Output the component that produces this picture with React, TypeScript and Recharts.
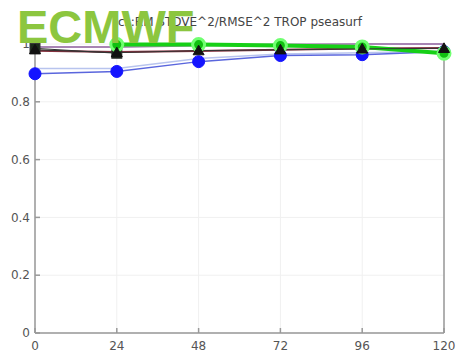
import { LineChart, Line, XAxis, YAxis, CartesianGrid, ReferenceLine } from "recharts"

// forecast step (hours)
const steps = [0, 24, 48, 72, 96, 120]
const yTicks = [0, 0.2, 0.4, 0.6, 0.8, 1]

// series
const blueDots = [0.897, 0.905, 0.939, 0.96, 0.963, 0.974]
const lightBlue = [0.915, 0.915, 0.95, 0.965, 0.97, 0.975]
const purple = [0.99, 0.99, 0.995, 0.998, 1.0, 1.0]
const maroon = [0.977, 0.972, 0.976, 0.98, 0.984, 0.986]
const greenDots = [null, 0.998, 0.998, 0.995, 0.99, 0.968]
const blackSquares = [0.985, 0.968, null, null, null, null]
const blackTriangles = [0.98, 0.97, 0.977, 0.98, 0.983, 0.985]

const data = steps.map((s, i) => ({
  step: s,
  blue: blueDots[i],
  light: lightBlue[i],
  purple: purple[i],
  maroon: maroon[i],
  green: greenDots[i],
  sq: blackSquares[i],
  tri: blackTriangles[i],
}))

const triangle = (props: any) => {
  const { cx, cy, index } = props
  if (cx == null || cy == null) return <g key={"t" + index} />
  const r = 5.5
  return (
    <polygon
      key={"t" + index}
      points={`${cx},${cy - r} ${cx - r},${cy + r * 0.75} ${cx + r},${cy + r * 0.75}`}
      fill="#111"
      stroke="#111"
    />
  )
}

const square = (props: any) => {
  const { cx, cy, index } = props
  if (cx == null || cy == null) return <g key={"s" + index} />
  return (
    <rect key={"s" + index} x={cx - 5} y={cy - 5} width={10} height={10} fill="#1a2a1a" stroke="#333" />
  )
}

const fmt = (v: number) => (v === 0 ? "0" : v === 1 ? "1" : v.toFixed(1))

const tickStyle = { fill: "#555", fontSize: 12, fontFamily: "DejaVu Sans" }

export default function App() {
  return (
    <div style={{ position: "absolute", left: 0, top: 0, width: 462, height: 357, background: "#fff" }}>
      <LineChart width={462} height={357} data={data} margin={{ top: 44, right: 18, bottom: 0, left: 0 }}>
        <CartesianGrid stroke="#f0f0f0" strokeWidth={1} />
        <XAxis
          dataKey="step"
          type="number"
          domain={[0, 120]}
          ticks={steps}
          height={24}
          tick={tickStyle}
          tickSize={-5}
          tickMargin={13}
          stroke="#999"
          strokeWidth={1.5}
        />
        <YAxis
          domain={[0, 1]}
          ticks={yTicks}
          width={35}
          tick={tickStyle}
          tickFormatter={fmt}
          tickSize={-5}
          tickMargin={10}
          stroke="#999"
          strokeWidth={1.5}
        />
        <ReferenceLine x={120} stroke="#999" strokeWidth={1.5} />
        <Line dataKey="light" stroke="#b8c4ee" strokeWidth={1.5} dot={false} isAnimationActive={false} />
        <Line dataKey="purple" stroke="#a884b4" strokeWidth={2} dot={false} isAnimationActive={false} />
        <Line dataKey="maroon" stroke="#84303e" strokeWidth={2} dot={false} isAnimationActive={false} />
        <Line dataKey="sq" stroke="#333" strokeWidth={1} dot={square} isAnimationActive={false} />
        <Line
          dataKey="blue"
          stroke="#5a66dd"
          strokeWidth={1.5}
          dot={{ r: 6, fill: "#1414ff", stroke: "#1414ff", strokeWidth: 1 }}
          isAnimationActive={false}
        />
        <Line
          dataKey="green"
          stroke="#16d016"
          strokeWidth={4}
          dot={{ r: 6, fill: "#10c010", stroke: "#70ff70", strokeWidth: 3 }}
          isAnimationActive={false}
        />
        <Line dataKey="tri" stroke="#333" strokeWidth={1} dot={triangle} isAnimationActive={false} />
      </LineChart>
      <svg width={462} height={357} style={{ position: "absolute", left: 0, top: 0, pointerEvents: "none" }}>
        <text x={240} y={26} textAnchor="middle" fontSize={12} fontFamily="DejaVu Sans" fill="#444">
          cs:RM STDVE^2/RMSE^2 TROP pseasurf
        </text>
        <text x={17} y={43} fontSize={47} fontWeight="bold" fontFamily="Liberation Sans" fill="#8cc63f">
          ECMWF
        </text>
      </svg>
    </div>
  )
}
